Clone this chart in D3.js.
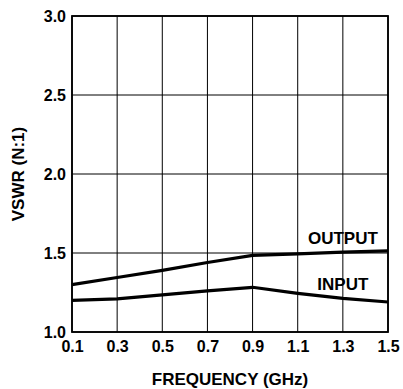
<!DOCTYPE html>
<html lang="en">
<head>
<meta charset="UTF-8">
<title>VSWR vs Frequency</title>
<script src="https://d3js.org/d3.v7.min.js"></script>
<style>
  body { margin: 0; background: #fff; }
  text { font-family: "Liberation Sans", Arial, sans-serif; font-weight: bold; fill: #000; }
  .tick text { font-size: 16px; }
  .axis-label { font-size: 17px; }
  .series-label { font-size: 17px; }
</style>
</head>
<body>
<svg width="403" height="389"></svg>
<script>
  var freq = [0.1, 0.3, 0.5, 0.7, 0.9, 1.1, 1.3, 1.5];
  var outputVswr = [1.30, 1.345, 1.39, 1.44, 1.485, 1.495, 1.505, 1.513];
  var inputVswr = [1.20, 1.21, 1.235, 1.26, 1.283, 1.245, 1.213, 1.19];
  var xTicks = [0.1, 0.3, 0.5, 0.7, 0.9, 1.1, 1.3, 1.5];
  var yTicks = [1.0, 1.5, 2.0, 2.5, 3.0];

  var margin = {top: 16, right: 15, bottom: 57, left: 72};
  var width = 403 - margin.left - margin.right;
  var height = 389 - margin.top - margin.bottom;

  const svg = d3.select('svg')
    .append('g')
    .attr('transform', `translate(${margin.left}, ${margin.top})`);

  const x = d3.scaleLinear().domain([0.1, 1.5]).range([0, width]);
  const y = d3.scaleLinear().domain([1.0, 3.0]).range([height, 0]);

  // grid
  svg.append('g')
    .selectAll('line')
    .data(xTicks)
    .enter()
    .append('line')
    .attr('x1', d => x(d)).attr('x2', d => x(d))
    .attr('y1', 0).attr('y2', height)
    .attr('stroke', '#000').attr('stroke-width', 1);

  svg.append('g')
    .selectAll('line')
    .data(yTicks)
    .enter()
    .append('line')
    .attr('x1', 0).attr('x2', width)
    .attr('y1', d => y(d)).attr('y2', d => y(d))
    .attr('stroke', '#000').attr('stroke-width', 1);

  // frame
  svg.append('rect')
    .attr('x', 0).attr('y', 0)
    .attr('width', width).attr('height', height)
    .attr('fill', 'none')
    .attr('stroke', '#000')
    .attr('stroke-width', 1.8);

  // axes (labels only)
  const xAxis = svg.append('g')
    .attr('transform', `translate(0, ${height})`)
    .call(d3.axisBottom(x).tickValues(xTicks).tickFormat(d3.format('.1f')).tickSize(0).tickPadding(9));
  xAxis.select('.domain').remove();

  const yAxis = svg.append('g')
    .call(d3.axisLeft(y).tickValues(yTicks).tickFormat(d3.format('.1f')).tickSize(0).tickPadding(6));
  yAxis.select('.domain').remove();

  svg.selectAll('.tick text').attr('font-family', null).attr('font-size', null);

  // lines
  const line = d3.line()
    .x((d, i) => x(freq[i]))
    .y(d => y(d));

  svg.append('path')
    .datum(outputVswr)
    .attr('d', line)
    .attr('fill', 'none')
    .attr('stroke', '#000')
    .attr('stroke-width', 3.2);

  svg.append('path')
    .datum(inputVswr)
    .attr('d', line)
    .attr('fill', 'none')
    .attr('stroke', '#000')
    .attr('stroke-width', 3.2);

  // series labels
  svg.append('text')
    .attr('class', 'series-label')
    .attr('x', x(1.3))
    .attr('y', y(1.557))
    .attr('text-anchor', 'middle')
    .text('OUTPUT');

  svg.append('text')
    .attr('class', 'series-label')
    .attr('x', x(1.3))
    .attr('y', y(1.266))
    .attr('text-anchor', 'middle')
    .text('INPUT');

  // axis titles
  svg.append('text')
    .attr('class', 'axis-label')
    .attr('x', width / 2)
    .attr('y', height + 53)
    .attr('text-anchor', 'middle')
    .text('FREQUENCY (GHz)');

  svg.append('text')
    .attr('class', 'axis-label')
    .attr('transform', 'rotate(-90)')
    .attr('x', -height / 2)
    .attr('y', -48)
    .attr('text-anchor', 'middle')
    .text('VSWR (N:1)');
</script>
</body>
</html>
